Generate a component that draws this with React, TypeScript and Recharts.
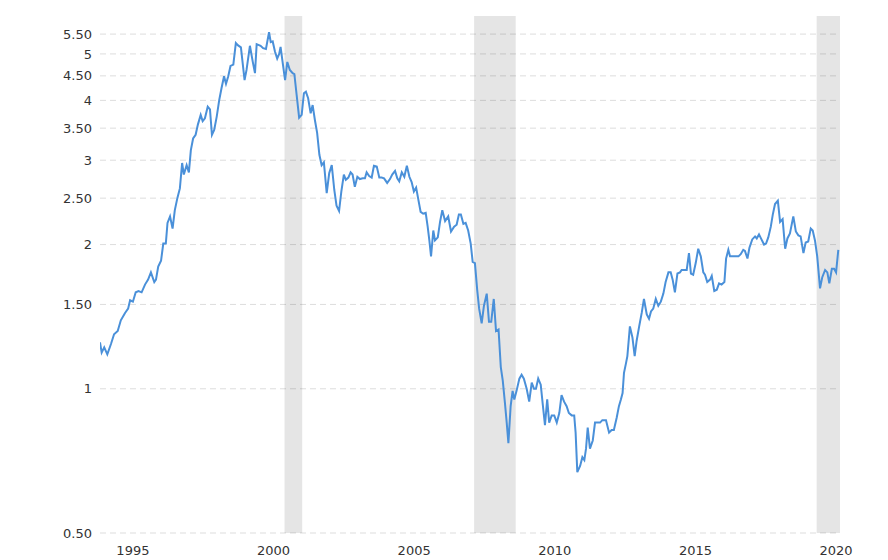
import { CartesianGrid, Line, LineChart, ReferenceArea, XAxis, YAxis } from 'recharts'

const years = [
  1993.83, 1993.89, 1993.98, 1994.09, 1994.22, 1994.33, 1994.46, 1994.57, 1994.72, 1994.83,
  1994.9, 1995.0, 1995.1, 1995.2, 1995.31, 1995.43, 1995.54, 1995.64, 1995.76, 1995.82,
  1995.9, 1996.0, 1996.08, 1996.17, 1996.23, 1996.32, 1996.41, 1996.49, 1996.58, 1996.67,
  1996.75, 1996.81, 1996.91, 1996.99, 1997.06, 1997.14, 1997.23, 1997.31, 1997.41, 1997.48,
  1997.56, 1997.66, 1997.74, 1997.81, 1997.89, 1997.98, 1998.07, 1998.15, 1998.24, 1998.31,
  1998.39, 1998.47, 1998.57, 1998.66, 1998.74, 1998.84, 1998.97, 1999.04, 1999.16, 1999.26,
  1999.34, 1999.4, 1999.54, 1999.63, 1999.73, 1999.84, 1999.9, 1999.97, 2000.05, 2000.13,
  2000.2, 2000.25, 2000.32, 2000.41, 2000.49, 2000.58, 2000.68, 2000.74, 2000.82, 2000.91,
  2001.0, 2001.08, 2001.15, 2001.23, 2001.32, 2001.39, 2001.47, 2001.55, 2001.63, 2001.71,
  2001.79, 2001.89, 2001.98, 2002.07, 2002.16, 2002.24, 2002.33, 2002.41, 2002.5, 2002.57,
  2002.66, 2002.74, 2002.81, 2002.89, 2002.98, 2003.07, 2003.17, 2003.25, 2003.31, 2003.4,
  2003.49, 2003.57, 2003.67, 2003.76, 2003.84, 2003.93, 2004.04, 2004.14, 2004.22, 2004.32,
  2004.4, 2004.47, 2004.56, 2004.65, 2004.74, 2004.83, 2004.91, 2004.99, 2005.07, 2005.15,
  2005.23, 2005.32, 2005.41, 2005.48, 2005.54, 2005.6, 2005.68, 2005.74, 2005.84, 2005.92,
  2006.0, 2006.1, 2006.21, 2006.31, 2006.42, 2006.51, 2006.59, 2006.66, 2006.75, 2006.83,
  2006.92, 2007.01, 2007.08, 2007.16, 2007.24, 2007.31, 2007.4, 2007.48, 2007.58, 2007.66,
  2007.74, 2007.83, 2007.91, 2008.0, 2008.08, 2008.15, 2008.23, 2008.29, 2008.35, 2008.43,
  2008.5, 2008.56, 2008.64, 2008.74, 2008.82, 2008.9, 2009.0, 2009.09, 2009.18, 2009.26,
  2009.33, 2009.41, 2009.5, 2009.57, 2009.65, 2009.73, 2009.8, 2009.89, 2009.98, 2010.07,
  2010.16, 2010.24, 2010.33, 2010.42, 2010.5, 2010.6, 2010.69, 2010.74, 2010.8, 2010.9,
  2010.98, 2011.05, 2011.11, 2011.17, 2011.25, 2011.35, 2011.43, 2011.53, 2011.61, 2011.69,
  2011.82, 2011.93, 2012.02, 2012.1, 2012.2, 2012.28, 2012.35, 2012.41, 2012.46, 2012.53,
  2012.58, 2012.67, 2012.76, 2012.84, 2012.91, 2013.0, 2013.09, 2013.17, 2013.27, 2013.35,
  2013.42, 2013.5, 2013.59, 2013.68, 2013.77, 2013.86, 2013.94, 2014.04, 2014.12, 2014.19,
  2014.27, 2014.36, 2014.45, 2014.51, 2014.63, 2014.69, 2014.77, 2014.84, 2014.92, 2015.01,
  2015.1, 2015.19, 2015.28, 2015.34, 2015.42, 2015.52, 2015.58, 2015.67, 2015.76, 2015.84,
  2015.93, 2016.03, 2016.09, 2016.17, 2016.23, 2016.33, 2016.43, 2016.53, 2016.61, 2016.7,
  2016.76, 2016.85, 2016.92, 2017.02, 2017.12, 2017.18, 2017.26, 2017.33, 2017.44, 2017.51,
  2017.59, 2017.68, 2017.75, 2017.83, 2017.93, 2018.01, 2018.1, 2018.19, 2018.27, 2018.36,
  2018.48, 2018.57, 2018.66, 2018.74, 2018.84, 2018.92, 2019.01, 2019.1, 2019.17, 2019.25,
  2019.33, 2019.43, 2019.51, 2019.61, 2019.69, 2019.76, 2019.85, 2019.93, 2020.0, 2020.08
]

const prices = [
  1.25, 1.19, 1.22, 1.18, 1.24, 1.3, 1.32, 1.39, 1.44, 1.47,
  1.53, 1.52, 1.59, 1.6, 1.59, 1.65, 1.69, 1.75, 1.67, 1.69,
  1.8, 1.85, 2.01, 2.01, 2.22, 2.29, 2.16, 2.36, 2.5, 2.62,
  2.96, 2.8, 2.93, 2.83, 3.15, 3.33, 3.39, 3.56, 3.73, 3.62,
  3.67, 3.88, 3.83, 3.39, 3.47, 3.7, 4.01, 4.24, 4.49, 4.33,
  4.49, 4.72, 4.75, 5.27, 5.21, 5.16, 4.41, 4.63, 5.2, 4.82,
  4.56, 5.24, 5.2, 5.14, 5.12, 5.55, 5.29, 5.31, 5.06, 4.89,
  5.0, 5.17, 4.82, 4.41, 4.81, 4.63, 4.56, 4.54, 4.11, 3.68,
  3.73, 4.14, 4.17, 4.04, 3.76, 3.91, 3.64, 3.42, 3.08, 2.93,
  2.97, 2.56, 2.82, 2.93, 2.6, 2.41, 2.35, 2.58, 2.8, 2.73,
  2.76, 2.83, 2.8, 2.64, 2.77, 2.74, 2.75, 2.75, 2.83, 2.78,
  2.76, 2.92, 2.91, 2.76, 2.76, 2.75, 2.69, 2.74, 2.8, 2.85,
  2.75, 2.71, 2.83, 2.77, 2.92, 2.77, 2.7, 2.58, 2.63, 2.48,
  2.34, 2.32, 2.33, 2.18, 2.04, 1.89, 2.14, 2.04, 2.07, 2.23,
  2.36, 2.24, 2.29, 2.13, 2.18, 2.2, 2.31, 2.31, 2.21, 2.22,
  2.14, 2.01, 1.84, 1.83, 1.61, 1.47, 1.37, 1.49, 1.58, 1.38,
  1.38, 1.54, 1.32, 1.33, 1.11, 1.04, 0.93, 0.85, 0.77, 0.92,
  0.99, 0.95, 0.99, 1.05, 1.07, 1.05, 1.0, 0.94, 1.03, 1.0,
  1.0, 1.05, 1.02, 0.93, 0.84, 0.95, 0.85, 0.88, 0.88, 0.85,
  0.89, 0.97, 0.94, 0.92, 0.89, 0.88, 0.88, 0.81, 0.67, 0.69,
  0.72, 0.71, 0.75, 0.83, 0.75, 0.78, 0.85, 0.85, 0.85, 0.86,
  0.86, 0.81, 0.82, 0.82, 0.87, 0.92, 0.95, 0.98, 1.08, 1.13,
  1.17, 1.35, 1.28, 1.17, 1.26, 1.35, 1.44, 1.54, 1.43, 1.4,
  1.45, 1.47, 1.54, 1.49, 1.52, 1.58, 1.67, 1.75, 1.75, 1.69,
  1.59, 1.74, 1.75, 1.77, 1.77, 1.77, 1.92, 1.74, 1.73, 1.83,
  1.96, 1.89, 1.75, 1.73, 1.67, 1.69, 1.72, 1.6, 1.61, 1.66,
  1.65, 1.67, 1.87, 1.95, 1.89, 1.89, 1.89, 1.89, 1.91, 1.95,
  1.94, 1.87, 1.97, 2.05, 2.08, 2.06, 2.1, 2.06, 2.0, 2.01,
  2.07, 2.18, 2.31, 2.43, 2.47, 2.23, 2.26, 1.96, 2.06, 2.11,
  2.29, 2.13, 2.09, 2.08, 1.92, 2.02, 2.03, 2.16, 2.14, 2.04,
  1.89, 1.62, 1.71, 1.77, 1.75, 1.66, 1.78, 1.78, 1.75, 1.95
]

const yTicks = [0.5, 1, 1.5, 2, 2.5, 3, 3.5, 4, 4.5, 5, 5.5]
const xTicks = [1995, 2000, 2005, 2010, 2015, 2020]

// shaded periods (start, end) in decimal years
const recessions = [
  [2000.39, 2001.02],
  [2007.13, 2008.61],
  [2019.31, 2020.14]
]

const data = years.map((t, i) => ({ t, v: prices[i] }))

const fmtY = (v: number) => (Number.isInteger(v) ? String(v) : v.toFixed(2))

export default function App() {
  return (
    <div style={{ position: 'absolute', left: 0, top: 0, width: 888, height: 560, background: '#fff' }}>
      <LineChart width={888} height={560} data={data} margin={{ top: 16, right: 48, bottom: 0, left: 0 }}>
        <CartesianGrid vertical={false} horizontalValues={yTicks} stroke="#dddddd" strokeDasharray="6 4" />
        <XAxis
          dataKey="t"
          type="number"
          domain={[1993.83, 2020.14]}
          allowDataOverflow
          ticks={xTicks}
          interval={0}
          axisLine={false}
          tickLine={false}
          height={27}
          tickMargin={7}
          tick={{ fill: '#333', fontSize: 13, fontFamily: 'DejaVu Sans' }}
        />
        <YAxis
          scale="log"
          domain={[0.5, 6]}
          allowDataOverflow
          ticks={yTicks}
          interval={0}
          tickFormatter={fmtY}
          axisLine={false}
          tickLine={false}
          width={100}
          tick={{ fill: '#333', fontSize: 13, fontFamily: 'DejaVu Sans' }}
        />
        {recessions.map(([a, b]) => (
          <ReferenceArea key={a} x1={a} x2={b} fill="#000" fillOpacity={0.1} stroke="none" ifOverflow="hidden" />
        ))}
        <Line
          type="linear"
          dataKey="v"
          stroke="#4a90d9"
          strokeWidth={2}
          dot={false}
          activeDot={false}
          isAnimationActive={false}
        />
      </LineChart>
    </div>
  )
}
